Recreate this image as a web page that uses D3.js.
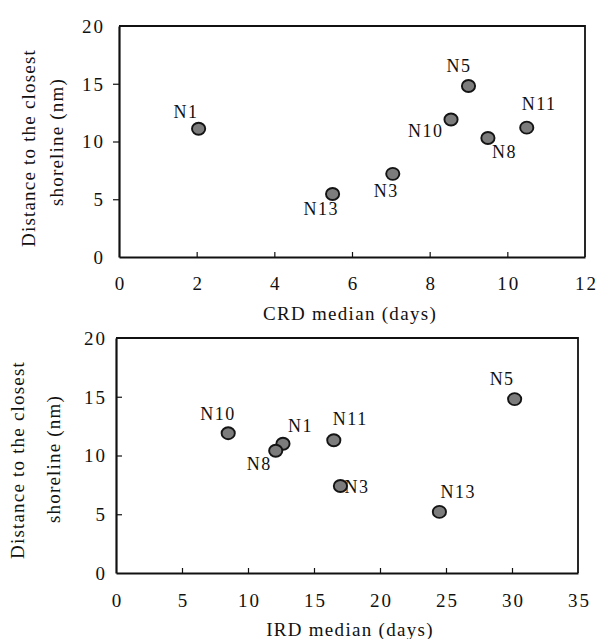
<!DOCTYPE html>
<html>
<head>
<meta charset="utf-8">
<script src="https://cdn.jsdelivr.net/npm/d3@7"></script>
<style>
  html, body { margin: 0; padding: 0; background: #fff; }
</style>
</head>
<body>
<svg id="fig" width="598" height="639" font-family="Liberation Serif"></svg>
<script>
const SERIF = "Liberation Serif";

// Station names
const stations = ["N1", "N3", "N5", "N8", "N10", "N11", "N13"];
// Distance to the closest shoreline (nm), as plotted in each panel
const distanceCRD = [11.1, 7.2, 14.8, 10.3, 11.9, 11.2, 5.45];
const distanceIRD = [11.0, 7.4, 14.8, 10.4, 11.9, 11.3, 5.2];
// CRD median (days)
const crdMedian = [2.05, 7.05, 9.0, 9.5, 8.55, 10.5, 5.5];
// IRD median (days)
const irdMedian = [12.65, 17.0, 30.2, 12.1, 8.5, 16.5, 24.5];
// Tick values
const crdTicks = [0, 2, 4, 6, 8, 10, 12];
const irdTicks = [0, 5, 10, 15, 20, 25, 30, 35];
const distTicks = [0, 5, 10, 15, 20];

// Label offsets from each point (left edge dx, baseline dy)
const crdLabelPos = {
  N1: [-25, -11], N3: [-19, 23], N5: [-22, -14], N8: [4, 20],
  N10: [-43, 17], N11: [-5, -18], N13: [-29, 21]
};
const irdLabelPos = {
  N1: [5, -12], N3: [4, 7], N5: [-25, -14], N8: [-29, 19],
  N10: [-28, -13], N11: [-1, -15], N13: [1, -14]
};

const svg = d3.select("#fig");

function panel(o) {
  const x = d3.scaleLinear().domain(o.xDomain).range([o.left, o.right]);
  const y = d3.scaleLinear().domain([0, 20]).range([o.bottom, o.top]);
  const g = svg.append("g");

  // frame: top and right sides
  g.append("path")
    .attr("d", `M${o.left},${o.top}H${o.right}V${o.bottom}`)
    .attr("fill", "none").attr("stroke", "#111").attr("stroke-width", 1.8);

  // x axis, ticks pointing up into the plot
  const xa = g.append("g").attr("transform", `translate(0,${o.bottom})`)
    .call(d3.axisBottom(x).tickValues(o.xTicks).tickSizeInner(-5).tickSizeOuter(0));
  xa.attr("font-family", SERIF);
  xa.select(".domain").attr("stroke", "#111").attr("stroke-width", 2.2);
  xa.selectAll(".tick line").attr("stroke", "#111").attr("stroke-width", 1.2);
  xa.selectAll(".tick line")
    .filter(d => d === o.xTicks[0] || d === o.xTicks[o.xTicks.length - 1]).remove();
  xa.selectAll(".tick text")
    .attr("font-family", SERIF).attr("font-size", 19).attr("letter-spacing", "2px")
    .attr("fill", "#111").attr("y", o.xLabelOffset).attr("dy", 0).attr("dx", 1);

  // y axis
  const ya = g.append("g").attr("transform", `translate(${o.left},0)`)
    .call(d3.axisLeft(y).tickValues(distTicks)
      .tickSizeInner(o.yTickInside ? -6 : 6).tickSizeOuter(0));
  ya.attr("font-family", SERIF);
  ya.select(".domain").attr("stroke", "#111").attr("stroke-width", 2.2);
  ya.selectAll(".tick line").attr("stroke", "#111").attr("stroke-width", 1.2);
  ya.selectAll(".tick line").filter(d => d === 0 || d === 20).remove();
  ya.selectAll(".tick text")
    .attr("font-family", SERIF).attr("font-size", 19).attr("letter-spacing", "2px")
    .attr("fill", "#111").attr("x", -o.yLabelGap).attr("dy", "0.34em");

  // points
  const pts = stations.map((s, i) => ({ s, xv: o.xVals[i], yv: o.yVals[i] }));
  g.selectAll("ellipse.pt").data(pts).join("ellipse")
    .attr("class", "pt")
    .attr("cx", d => x(d.xv)).attr("cy", d => y(d.yv))
    .attr("rx", 6.6).attr("ry", 6)
    .attr("fill", "#7c7c7c").attr("stroke", "#141414").attr("stroke-width", 1.9);

  // station labels
  g.selectAll("text.lbl").data(pts).join("text")
    .attr("class", "lbl")
    .attr("x", d => x(d.xv) + o.labelPos[d.s][0])
    .attr("y", d => y(d.yv) + o.labelPos[d.s][1])
    .attr("font-family", SERIF).attr("font-size", 18).attr("letter-spacing", "1.5px")
    .attr("fill", "#111")
    .text(d => d.s);

  // x title
  g.append("text").attr("x", o.xTitleX).attr("y", o.xTitleY)
    .attr("text-anchor", "middle")
    .attr("font-family", SERIF).attr("font-size", 19).attr("letter-spacing", "1.3px")
    .attr("fill", "#111")
    .text(o.xTitle);

  // y title, two lines
  [["Distance to the closest", o.yTitleX1, o.yTitleY1],
   ["shoreline (nm)", o.yTitleX2, o.yTitleY2]].forEach(([t, xx, yy]) => {
    g.append("text")
      .attr("transform", `translate(${xx},${yy}) rotate(-90)`)
      .attr("text-anchor", "middle").attr("dy", "0.35em")
      .attr("font-family", SERIF).attr("font-size", 19).attr("letter-spacing", "1.2px")
      .attr("fill", "#111")
      .text(t);
  });
}

panel({
  left: 119, right: 585, top: 26, bottom: 257,
  xDomain: [0, 12], xTicks: crdTicks, xVals: crdMedian, yVals: distanceCRD,
  labelPos: crdLabelPos, xTitle: "CRD median (days)", yTickInside: false,
  xLabelOffset: 33, yLabelGap: 14,
  xTitleX: 350, xTitleY: 320,
  yTitleX1: 28, yTitleY1: 148, yTitleX2: 56, yTitleY2: 142
});

panel({
  left: 116, right: 578, top: 338, bottom: 573,
  xDomain: [0, 35], xTicks: irdTicks, xVals: irdMedian, yVals: distanceIRD,
  labelPos: irdLabelPos, xTitle: "IRD median (days)", yTickInside: true,
  xLabelOffset: 34, yLabelGap: 9,
  xTitleX: 350, xTitleY: 636,
  yTitleX1: 17, yTitleY1: 460, yTitleX2: 53, yTitleY2: 459
});
</script>
</body>
</html>
